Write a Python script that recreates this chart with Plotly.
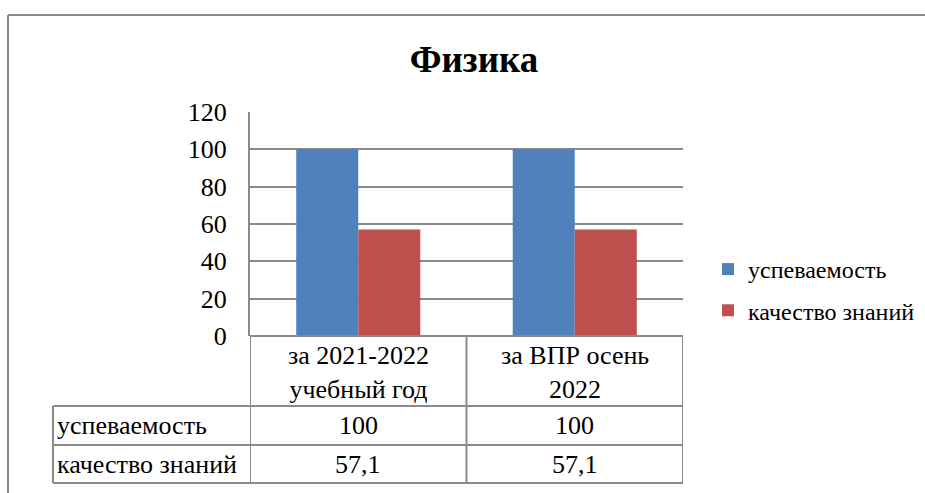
import plotly.graph_objects as go

categories = ["за 2021-2022<br>учебный год", "за ВПР осень<br>2022"]
series_names = ["успеваемость", "качество знаний"]
uspevaemost = [100, 100]
kachestvo = [57.1, 57.1]
series_values = [uspevaemost, kachestvo]
colors = ["#4F81BD", "#C0504D"]
y_ticks = [0, 20, 40, 60, 80, 100, 120]

W, H = 925, 493
def px(x):
    return x / W
def py(y):
    return 1 - y / H

FONT = "Liberation Serif"
GRID = "#8a8a8a"
FS = 26

fig = go.Figure()
for i, (name, vals) in enumerate(zip(series_names, series_values)):
    fig.add_trace(go.Bar(
        x=list(range(len(categories))), y=vals, name=name,
        marker=dict(color=colors[i], line=dict(width=0)),
        legendgroup=name,
    ))

shapes = []
line = dict(color=GRID, width=2)
# outer frame
shapes.append(dict(type="line", xref="paper", yref="paper", x0=px(8), x1=px(925), y0=py(15), y1=py(15), line=line))
shapes.append(dict(type="line", xref="paper", yref="paper", x0=px(8), x1=px(8), y0=py(15), y1=py(493), line=line))
# table horizontal lines
for yy in [406, 445, 483]:
    shapes.append(dict(type="line", xref="paper", yref="paper", x0=px(53), x1=px(683), y0=py(yy), y1=py(yy), line=line))
shapes.append(dict(type="line", xref="paper", yref="paper", x0=px(250), x1=px(683), y0=py(336), y1=py(336), line=line))
# table vertical lines (category boundaries in data coords)
for xv in [-0.5, 0.5, 1.5]:
    shapes.append(dict(type="line", xref="x", yref="paper", x0=xv, x1=xv, y0=py(336), y1=py(483), line=line))
shapes.append(dict(type="line", xref="paper", yref="paper", x0=px(53), x1=px(53), y0=py(406), y1=py(483), line=line))

annotations = []
row_y = [425.5, 464]
for j, cat in enumerate(categories):
    annotations.append(dict(x=j, y=py(372), xref="x", yref="paper", text=cat, showarrow=False,
                            xanchor="center", yanchor="middle",
                            font=dict(family=FONT, size=FS, color="black"), align="center"))
for r, (name, vals) in enumerate(zip(series_names, series_values)):
    annotations.append(dict(x=px(55), y=py(row_y[r]), xref="paper", yref="paper", text=name,
                            showarrow=False, xanchor="left", yanchor="middle",
                            font=dict(family=FONT, size=FS, color="black")))
    for j, v in enumerate(vals):
        txt = f"{v:g}".replace(".", ",")
        annotations.append(dict(x=j, y=py(row_y[r]), xref="x", yref="paper", text=txt, showarrow=False,
                                xanchor="center", yanchor="middle",
                                font=dict(family=FONT, size=FS, color="black")))

fig.update_layout(
    width=W, height=H,
    margin=dict(l=0, r=0, t=0, b=0, pad=0, autoexpand=False),
    paper_bgcolor="white", plot_bgcolor="white",
    title=dict(text="<b>Физика</b>", x=px(474), y=py(59), xanchor="center", yanchor="middle",
               xref="paper", yref="paper", automargin=False,
               font=dict(family=FONT, size=37, color="black")),
    barmode="group", bargap=0.427, bargroupgap=0,
    xaxis=dict(domain=[px(250), px(683)], range=[-0.5, 1.5], showticklabels=False,
               showgrid=False, zeroline=False, showline=False, fixedrange=True),
    yaxis=dict(domain=[py(336), py(112)], range=[0, 120], tickvals=y_ticks,
               showgrid=True, gridcolor=GRID, gridwidth=2, zeroline=False,
               showline=True, linecolor=GRID, linewidth=2,
               ticks="", ticklabelstandoff=16, fixedrange=True,
               tickfont=dict(family=FONT, size=FS, color="black")),
    legend=dict(x=px(708), y=py(247), xanchor="left", yanchor="top",
                font=dict(family=FONT, size=24, color="black"),
                tracegroupgap=7, bgcolor="rgba(0,0,0,0)"),
    shapes=shapes, annotations=annotations,
    showlegend=True,
)
fig.write_html("out.html", config={"displayModeBar": False},
               post_script="document.body.style.margin='0';")
